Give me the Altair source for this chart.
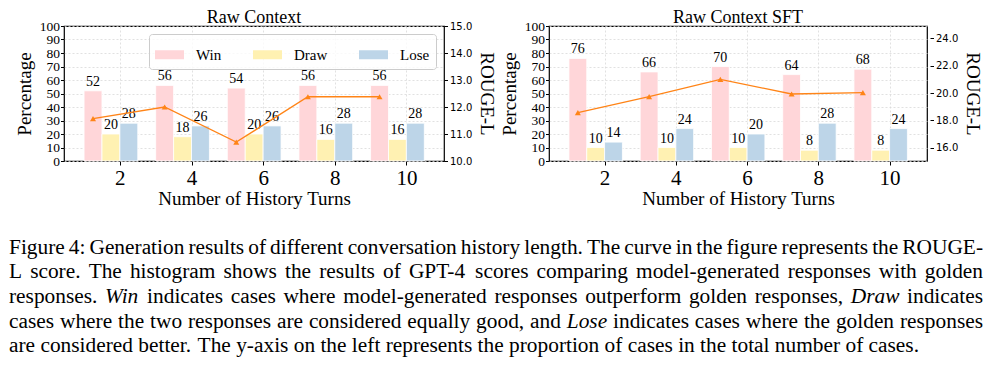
import altair as alt
import pandas as pd

# ---------------- data ----------------
turns = [2, 4, 6, 8, 10]
outcomes = ["Win", "Draw", "Lose"]

raw_win = [52, 56, 54, 56, 56]
raw_draw = [20, 18, 20, 16, 16]
raw_lose = [28, 26, 26, 28, 28]
raw_rouge = [11.57, 12.0, 10.70, 12.38, 12.38]

sft_win = [76, 66, 70, 64, 68]
sft_draw = [10, 10, 10, 8, 8]
sft_lose = [14, 24, 20, 28, 24]
sft_rouge = [18.56, 19.73, 21.0, 19.93, 20.03]

pct_ticks = list(range(0, 101, 10))
raw_rouge_ticks = [10, 11, 12, 13, 14, 15]
sft_rouge_ticks = [16, 18, 20, 22, 24]

caption_text = [
    "Figure 4: Generation results of different conversation history length. The curve in the figure represents the ROUGE-",
    "L score.  The histogram shows the results of GPT-4 scores comparing model-generated responses with golden",
    "responses. *Win* indicates cases where model-generated responses outperform golden responses, *Draw* indicates",
    "cases where the two responses are considered equally good, and *Lose* indicates cases where the golden responses",
    "are considered better. The y-axis on the left represents the proportion of cases in the total number of cases.",
]

# ---------------- style ----------------
SERIF = "Liberation Serif"
SANS = "DejaVu Sans"
bar_colors = ["#FFD6D9", "#FFF1B2", "#BDD5E8"]
line_color = "#FF8417"
grid_color = "#d9d9d9"
PLOT_H = 135


def panel(title, win, draw, lose, rouge, rdomain, rticks, roffset, plot_w):
    bars_df = pd.DataFrame({
        "turn": turns * 3,
        "outcome": [o for o in outcomes for _ in turns],
        "slot": [s for s in range(3) for _ in turns],
        "value": win + draw + lose,
    })
    line_df = pd.DataFrame({"turn": turns, "rouge": rouge})

    xscale = alt.Scale(domain=[0.44, 11.05], nice=False, zero=False, padding=0)
    xaxis = alt.Axis(values=turns, format="d", title="Number of History Turns",
                     grid=True, gridDash=[2, 2], gridColor=grid_color, gridWidth=0.8,
                     labelFontSize=21, titleFontSize=19, tickSize=4, labelPadding=2,
                     titlePadding=1, domain=False, labelOverlap=False)
    yaxis = alt.Axis(values=pct_ticks, format="d", title="Percentage",
                     grid=True, gridDash=[2, 2], gridColor=grid_color, gridWidth=0.8,
                     labelFontSize=13.5, titleFontSize=19, tickSize=3.5, labelPadding=1,
                     titlePadding=5, domain=False, labelOverlap=False)
    yscale = alt.Scale(domain=[0, 100], nice=False, padding=0)

    base = alt.Chart(bars_df).transform_calculate(
        x0="datum.turn - 1 + datum.slot * 0.5",
        x1="datum.turn - 0.5 + datum.slot * 0.5",
        xc="datum.turn - 0.75 + datum.slot * 0.5",
        zero="0",
    )
    bars = base.mark_rect(stroke="white", strokeWidth=0.8).encode(
        x=alt.X("x0:Q", scale=xscale, axis=xaxis),
        x2="x1:Q",
        y=alt.Y("value:Q", scale=yscale, axis=yaxis),
        y2="zero:Q",
        color=alt.Color("outcome:N", scale=alt.Scale(domain=outcomes, range=bar_colors),
                        legend=alt.Legend(orient="none", legendX=85, legendY=8,
                                          direction="horizontal", columns=3, title=None,
                                          symbolType="M-1,-0.31H1V0.31H-1Z", symbolSize=841,
                                          symbolStrokeWidth=0, symbolOpacity=1,
                                          labelFont=SERIF, labelFontSize=15, labelColor="black",
                                          labelOffset=12, columnPadding=31, padding=6,
                                          fillColor="rgba(255,255,255,0.8)", strokeColor="#cccccc",
                                          cornerRadius=3)),
    )
    labels = base.mark_text(baseline="bottom", dy=-2, fontSize=14, font=SERIF, color="black").encode(
        x=alt.X("xc:Q", scale=xscale, axis=xaxis),
        y=alt.Y("value:Q", scale=yscale, axis=yaxis),
        text=alt.Text("value:Q", format="d"),
    )
    line = alt.Chart(line_df).transform_calculate(xw="datum.turn - 0.75").mark_line(
        color=line_color, strokeWidth=1.3,
        point=alt.OverlayMarkDef(shape="triangle-up", size=36, filled=True, color=line_color),
    ).encode(
        x=alt.X("xw:Q", scale=xscale, axis=xaxis),
        y=alt.Y("rouge:Q", scale=alt.Scale(domain=rdomain, nice=False, zero=False),
                axis=alt.Axis(orient="right", values=rticks, format=".1f", title="ROUGE-L",
                              labelFont=SANS, labelFontSize=10, titleFontSize=19,
                              titleFont=SERIF, grid=False, tickSize=3.5, labelPadding=2,
                              titlePadding=5, domain=False, offset=roffset,
                              labelOverlap=False)),
    )
    ttl = alt.Chart(line_df.head(1)).mark_text(
        text=title, font=SERIF, fontSize=18, baseline="alphabetic", align="center",
        color="black").encode(x=alt.value(plot_w / 2), y=alt.value(-3))
    return alt.layer(alt.layer(bars, labels), line, ttl).resolve_scale(y="independent").properties(
        width=plot_w, height=PLOT_H)


left = panel("Raw Context", raw_win, raw_draw, raw_lose, raw_rouge,
             [10, 15], raw_rouge_ticks, 0, 380)
right = panel("Raw Context SFT", sft_win, sft_draw, sft_lose, sft_rouge,
              [15.03, 24.9], sft_rouge_ticks, 3, 378)

top = alt.hconcat(left, right, spacing=2)

# ---------------- caption (justified, word by word, Times metrics) ----------------
TIMES = {' ': 250, '!': 333, '(': 333, ')': 333, ',': 250, '-': 333, '.': 250, ':': 278,
         '0': 500, '1': 500, '2': 500, '3': 500, '4': 500, '5': 500, '6': 500, '7': 500,
         '8': 500, '9': 500, 'A': 722, 'B': 667, 'C': 667, 'D': 722, 'E': 611, 'F': 556,
         'G': 722, 'H': 722, 'I': 333, 'J': 389, 'K': 722, 'L': 611, 'M': 889, 'N': 722,
         'O': 722, 'P': 556, 'Q': 722, 'R': 667, 'S': 556, 'T': 611, 'U': 722, 'V': 722,
         'W': 944, 'X': 722, 'Y': 722, 'Z': 611, 'a': 444, 'b': 500, 'c': 444, 'd': 500,
         'e': 444, 'f': 333, 'g': 500, 'h': 500, 'i': 278, 'j': 278, 'k': 500, 'l': 278,
         'm': 778, 'n': 500, 'o': 500, 'p': 500, 'q': 500, 'r': 333, 's': 389, 't': 278,
         'u': 500, 'v': 500, 'w': 722, 'x': 500, 'y': 500, 'z': 444}
TIMES_I = dict(TIMES)
TIMES_I.update({'W': 833, 'D': 722, 'L': 556, 'i': 278, 'n': 500, 'r': 389, 'a': 500,
                'w': 667, 'o': 500, 's': 389, 'e': 444})

# caption coordinates are relative to the left plot's left edge (page x = 63)
CAP_LEFT, CAP_RIGHT, LAST_RIGHT = -55, 919, 855
CAP_W = 921


def em_width(word, italic):
    table = TIMES_I if italic else TIMES
    return sum(table.get(c, 500) for c in word) / 1000.0


def split_words(line):
    return [(w.strip("*"), w.startswith("*")) for w in line.split()]


lines = [split_words(l) for l in caption_text]
last = lines[-1]
cap_size = (LAST_RIGHT - CAP_LEFT) / (sum(em_width(w, i) for w, i in last) + 0.25 * (len(last) - 1))

rows = []
for li, words in enumerate(lines):
    widths = [em_width(w, i) * cap_size for w, i in words]
    if li < len(lines) - 1:
        gap = (CAP_RIGHT - CAP_LEFT - sum(widths)) / (len(words) - 1)
    else:
        gap = 0.25 * cap_size
    x = CAP_LEFT
    for (w, it), wd in zip(words, widths):
        rows.append({"line": li, "x": x, "text": w, "italic": it})
        x += wd + gap
cap_df = pd.DataFrame(rows)

cap_x = alt.Scale(domain=[0, CAP_W], nice=False, zero=False)
cap_y = alt.Scale(domain=[-1.780, 4.318], nice=False, zero=False, reverse=True)


def cap_layer(italic):
    style = "italic" if italic else "normal"
    return alt.Chart(cap_df[cap_df["italic"] == italic]).mark_text(
        align="left", baseline="alphabetic", font=SERIF, fontSize=cap_size,
        fontStyle=style, color="black").encode(
        x=alt.X("x:Q", scale=cap_x, axis=None),
        y=alt.Y("line:Q", scale=cap_y, axis=None),
        text="text:N",
    )


caption = alt.layer(cap_layer(False), cap_layer(True)).properties(
    width=CAP_W, height=150, view=alt.ViewBackground(stroke="transparent"))

chart = alt.vconcat(top, caption, spacing=0).properties(
    padding={"left": 0, "top": 0, "right": 0, "bottom": 0}
).configure(font=SERIF).configure_view(stroke="black", strokeWidth=1.2).configure_axis(
    labelColor="black", titleColor="black", tickColor="black", titleFontWeight="normal"
)

chart.save("out.html", embed_options={"renderer": "svg", "actions": False})
